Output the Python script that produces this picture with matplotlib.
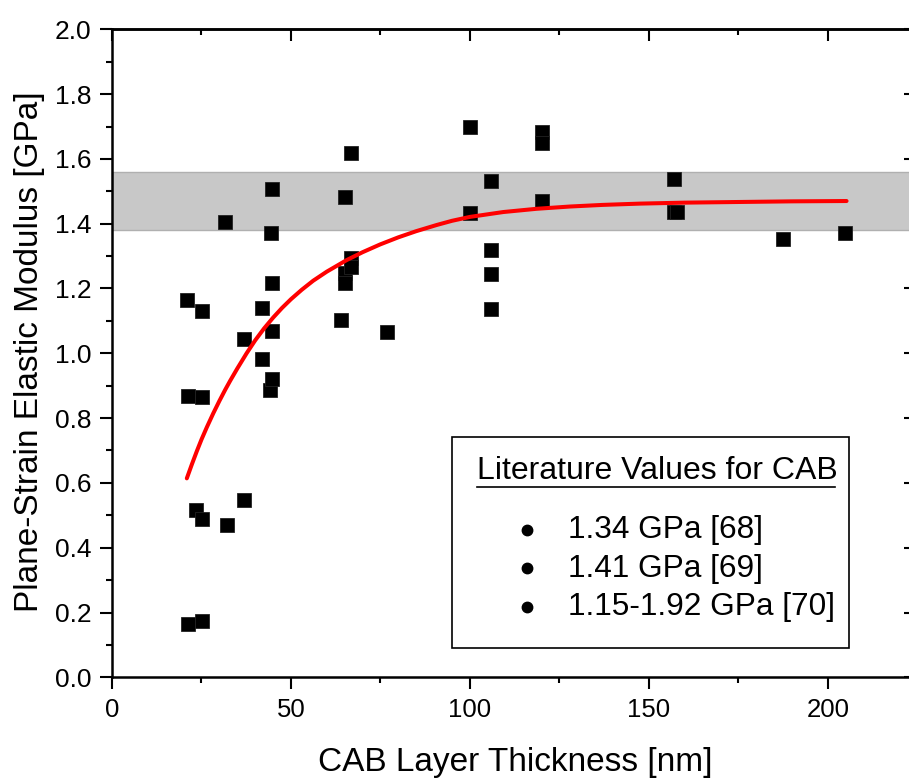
import matplotlib
matplotlib.use("Agg")
import matplotlib.pyplot as plt
from matplotlib.ticker import MultipleLocator, FormatStrFormatter
from matplotlib.patches import Rectangle
from matplotlib.lines import Line2D

plt.rcParams['font.family'] = ['Liberation Sans', 'DejaVu Sans']

# ---- data ----
thickness_nm = [20.9, 21.2, 25.1, 25.1, 23.5, 25.1, 21.2, 25.1,
                31.6, 32.1, 36.9, 36.9, 41.9, 41.9,
                44.6, 44.3, 44.6, 44.6, 44.1, 44.6,
                65.1, 63.9, 65.1, 65.1, 66.9, 66.9, 66.9, 76.9,
                100.0, 100.0, 105.9, 105.9, 105.9, 105.9,
                120.0, 120.0, 120.0, 157.0, 157.0, 157.7, 187.5, 204.9]
modulus_gpa = [1.165, 0.868, 0.865, 1.131, 0.516, 0.489, 0.165, 0.174,
               1.405, 0.470, 1.044, 0.547, 1.140, 0.982,
               1.507, 1.371, 1.217, 1.069, 0.887, 0.921,
               1.482, 1.103, 1.248, 1.217, 1.618, 1.294, 1.266, 1.067,
               1.699, 1.432, 1.532, 1.319, 1.245, 1.136,
               1.684, 1.650, 1.470, 1.537, 1.437, 1.437, 1.352, 1.370]

# red fitted curve
fit_x = [20.9, 22.3, 23.7, 25.0, 26.5, 28.3, 30.0, 31.6, 33.0, 35.0, 37.6,
         40.0, 42.5, 45.0, 47.5, 50.0, 53.0, 56.2, 60.0, 65.6, 70.0, 74.9,
         80.0, 85.0, 90.7, 95.0, 100.0, 109.3, 118.6, 127.9, 137.0, 147.5,
         160.0, 175.0, 190.0, 205.2]
fit_y = [0.614, 0.657, 0.698, 0.734, 0.772, 0.815, 0.853, 0.887, 0.915, 0.953,
         1.000, 1.040, 1.077, 1.110, 1.140, 1.167, 1.196, 1.224, 1.252, 1.288,
         1.312, 1.336, 1.358, 1.377, 1.396, 1.409, 1.421, 1.436, 1.446, 1.453,
         1.458, 1.462, 1.465, 1.467, 1.469, 1.470]

band_low, band_high = 1.38, 1.56

legend_title = "Literature Values for CAB"
legend_items = ["1.34 GPa [68]", "1.41 GPa [69]", "1.15-1.92 GPa [70]"]

x_label = "CAB Layer Thickness [nm]"
y_label = "Plane-Strain Elastic Modulus [GPa]"

# ---- figure ----
W, H = 909, 779
fig = plt.figure(figsize=(W / 100, H / 100), dpi=100)
ax = fig.add_axes([112 / W, 1 - 677.3 / H, (916 - 112) / W, (677.3 - 29.3) / H])

ax.axhspan(band_low, band_high, facecolor='#c8c8c8', edgecolor='#b0b0b0',
           linewidth=1.0, zorder=1)
ax.plot(thickness_nm, modulus_gpa, linestyle='none', marker='s', markersize=9.6,
        color='black', markeredgecolor='#222222', markeredgewidth=0.6, zorder=3)
ax.plot(fit_x, fit_y, color='#ff0000', linewidth=2.9, solid_capstyle='round',
        solid_joinstyle='round', zorder=4)

ax.set_xlim(0, 224.6)
ax.set_ylim(0, 2.0)
ax.xaxis.set_major_locator(MultipleLocator(50))
ax.xaxis.set_minor_locator(MultipleLocator(25))
ax.yaxis.set_major_locator(MultipleLocator(0.2))
ax.yaxis.set_minor_locator(MultipleLocator(0.1))
ax.yaxis.set_major_formatter(FormatStrFormatter('%.1f'))

for s in ax.spines.values():
    s.set_linewidth(1.8)
    s.set_color('black')

ax.tick_params(which='major', direction='out', length=8.6, width=1.5,
               pad=6, colors='black')
ax.tick_params(which='minor', direction='out', length=4.3, width=1.5)
ax.tick_params(axis='x', which='major', labelsize=18.5)
ax.tick_params(axis='y', which='major', labelsize=19)

# mirrored inward ticks on top and right
top = ax.secondary_xaxis('top')
top.xaxis.set_major_locator(MultipleLocator(50))
top.xaxis.set_minor_locator(MultipleLocator(25))
top.tick_params(which='major', direction='in', length=8.6, width=1.5, labeltop=False)
top.tick_params(which='minor', direction='in', length=4.3, width=1.5)
top.spines['top'].set_linewidth(1.8)
right = ax.secondary_yaxis('right')
right.yaxis.set_major_locator(MultipleLocator(0.2))
right.yaxis.set_minor_locator(MultipleLocator(0.1))
right.tick_params(which='major', direction='in', length=8.6, width=1.5, labelright=False)
right.tick_params(which='minor', direction='in', length=4.3, width=1.5)
right.spines['right'].set_linewidth(1.8)

fig.text(515 / W, 1 - 763 / H, x_label, fontsize=24, ha='center', va='center')
fig.text(30 / W, 1 - 352 / H, y_label, fontsize=24, ha='center', va='center',
         rotation=90)

# ---- literature box ----
box = Rectangle((452 / W, 1 - 648 / H), (849 - 452) / W, (648 - 437) / H,
                transform=fig.transFigure, facecolor='white', edgecolor='black',
                linewidth=1.2, zorder=10)
fig.add_artist(box)
fig.text(477 / W, 1 - 479.3 / H, legend_title, fontsize=23, ha='left',
         va='baseline', zorder=11)
fig.add_artist(Line2D([477 / W, 835 / W], [1 - 486.7 / H, 1 - 486.7 / H],
                      transform=fig.transFigure, color='black', linewidth=1.2,
                      zorder=11))
for i, item in enumerate(legend_items):
    base = 538.3 + i * 38.35
    fig.add_artist(Line2D([527 / W], [1 - (base - 8.5) / H], marker='o',
                          markersize=7.5, color='black', linestyle='none',
                          transform=fig.transFigure, zorder=11))
    fig.text(568 / W, 1 - base / H, item, fontsize=22.8, ha='left',
             va='baseline', zorder=11)

fig.savefig('out.png', dpi=100)
